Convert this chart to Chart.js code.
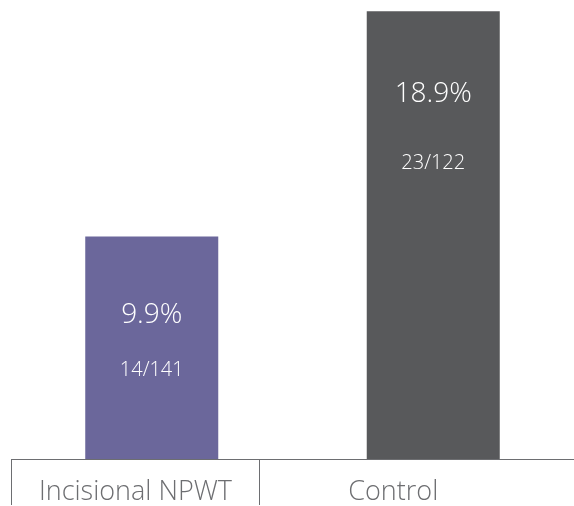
<!DOCTYPE html>
<html>
<head>
<meta charset="utf-8">
<script src="https://cdn.jsdelivr.net/npm/chart.js@4"></script>
<style>
  html, body { margin: 0; padding: 0; background: #fff; }
  #wrap { width: 574px; height: 506px; }
</style>
</head>
<body>
<div id="wrap"><canvas id="cc" width="574" height="506"></canvas></div>
<script>
// data
const groups = ["Incisional NPWT", "Control"];
const rates = [9.9, 18.9];
const events = ["14/141", "23/122"];

// label strip under the bars (percent of plot width)
const dividerPos = [0, 44.2];
const labelPos = [22.1, 67.9];

const barColors = ["#6b679b", "#58595b"];
const lineGrey = "#6d6e71";
const fontName = "'Open Sans', 'Noto Sans', sans-serif";

// writes the rate and the count inside each bar
const insideLabels = {
  id: "insideLabels",
  afterDatasetsDraw(chart) {
    const ctx = chart.ctx;
    const meta = chart.getDatasetMeta(0);
    const pctOffset = [79, 83];
    const cntOffset = [134, 152];
    ctx.save();
    ctx.fillStyle = "#ffffff";
    ctx.textAlign = "center";
    ctx.textBaseline = "middle";
    meta.data.forEach(function(bar, i) {
      ctx.font = "300 28px " + fontName;
      ctx.fillText(rates[i].toFixed(1) + "%", bar.x, bar.y + pctOffset[i]);
      ctx.font = "300 20px " + fontName;
      ctx.fillText(events[i], bar.x, bar.y + cntOffset[i]);
    });
    ctx.restore();
  }
};

let chartId = document.getElementById("cc");
let chart = new Chart(chartId, {
  type: "bar",
  data: {
    labels: groups,
    datasets: [
      {
        data: rates,
        backgroundColor: barColors,
        borderWidth: 0,
        barPercentage: 0.4725,
        categoryPercentage: 1
      }
    ]
  },
  options: {
    responsive: false,
    animation: false,
    layout: { padding: { left: 11, right: 0, top: 0, bottom: 0 } },
    plugins: {
      legend: { display: false },
      tooltip: { enabled: false }
    },
    scales: {
      x: {
        display: false,
        offset: true
      },
      xt: {
        type: "linear",
        position: "bottom",
        offset: false,
        min: 0,
        max: 100,
        afterBuildTicks: function(scale) {
          let t = [];
          dividerPos.forEach(v => t.push({ value: v }));
          labelPos.forEach(v => t.push({ value: v }));
          t.sort((a, b) => a.value - b.value);
          scale.ticks = t;
        },
        afterFit: function(scale) {
          scale.height = 47;
          scale.paddingLeft = 0;
          scale.paddingRight = 0;
        },
        border: { display: true, color: lineGrey, width: 1 },
        grid: {
          offset: false,
          drawOnChartArea: false,
          drawTicks: true,
          tickLength: 46,
          color: function(c) {
            return (c.tick && dividerPos.indexOf(c.tick.value) >= 0) ? lineGrey : "rgba(0,0,0,0)";
          }
        },
        ticks: {
          autoSkip: false,
          maxRotation: 0,
          padding: -29,
          color: lineGrey,
          font: { family: fontName, size: 27, weight: "300" },
          callback: function(value) {
            let i = labelPos.indexOf(value);
            return i >= 0 ? groups[i] : "";
          }
        }
      },
      y: {
        display: false,
        min: 1,
        max: 19.35
      }
    }
  },
  plugins: [insideLabels]
});
</script>
</body>
</html>
